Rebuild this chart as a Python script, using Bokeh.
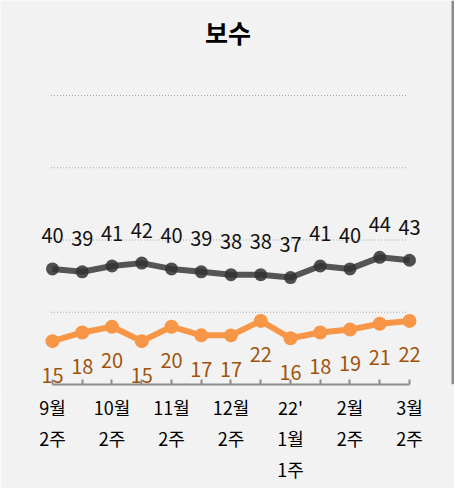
from bokeh.plotting import figure
from bokeh.models import Range1d, FixedTicker, ColumnDataSource, Label, Span
from bokeh.embed import file_html
from bokeh.resources import INLINE

title_text = "보수"
periods = list(range(13))
tick_labels = {0: "9월\n2주", 2: "10월\n2주", 4: "11월\n2주", 6: "12월\n2주",
               8: "22'\n1월\n1주", 10: "2월\n2주", 12: "3월\n2주"}
series_a = [40, 39, 41, 42, 40, 39, 38, 38, 37, 41, 40, 44, 43]
series_b = [15, 18, 20, 15, 20, 17, 17, 22, 16, 18, 19, 21, 22]
grid_values = [25, 50, 75, 100]

FONT = "Noto Sans CJK KR"
BG = "#f2f2f2"

p = figure(width=454, height=488, output_backend="svg", toolbar_location=None,
           x_range=Range1d(-1.748, 13.513), y_range=Range1d(0, 132.87),
           min_border_left=0, min_border_right=0, min_border_top=0, min_border_bottom=104,
           background_fill_color=BG, border_fill_color=BG, outline_line_color=None)

p.yaxis.visible = False
p.xgrid.visible = False
p.ygrid.visible = False

p.add_layout(Label(x=227.5, y=353, x_units="screen", y_units="screen", text=title_text,
                   text_align="center", text_baseline="middle", text_font=FONT,
                   text_font_size="25px", text_font_style="bold", text_color="#000000"))

# right edge line of the panel
p.add_layout(Span(location=13.48, dimension="height", line_color="#8a8a8a", line_width=4))

# dotted grid lines
p.segment(x0=[-0.05] * len(grid_values), x1=[11.9] * len(grid_values),
          y0=grid_values, y1=grid_values, line_color="#a6a6a6", line_width=1.2,
          line_dash="1 2")

xa = p.xaxis[0]
xa.ticker = FixedTicker(ticks=periods)
xa.major_label_overrides = {i: tick_labels.get(i, "") for i in periods}
xa.bounds = (0, 12)
xa.axis_line_color = "#8c8c8c"
xa.axis_line_width = 2
xa.major_tick_line_color = "#8c8c8c"
xa.major_tick_line_width = 2
xa.major_tick_in = 5
xa.major_tick_out = 0
xa.minor_tick_line_color = None
xa.major_label_text_font = FONT
xa.major_label_text_font_size = "18px"
xa.major_label_text_color = "#000000"
xa.major_label_text_line_height = 1.2
xa.major_label_standoff = 9

src = ColumnDataSource(dict(x=periods, a=series_a, b=series_b,
                            la=[str(v) for v in series_a], lb=[str(v) for v in series_b]))

p.line("x", "a", source=src, line_color="#444444", line_width=6, line_alpha=0.9)
p.scatter("x", "a", source=src, size=13, fill_color="#333333", fill_alpha=0.85,
          line_color=None)
p.line("x", "b", source=src, line_color="#f79646", line_width=6)
p.scatter("x", "b", source=src, size=14, fill_color="#f79646", line_color=None)

p.text("x", "a", text="la", source=src, y_offset=-33, text_align="center",
       text_baseline="middle", text_font_size="20px", text_color="#111111",
       text_font=dict(value=FONT))
p.text("x", "b", text="lb", source=src, y_offset=34, text_align="center",
       text_baseline="middle", text_font_size="20px", text_color="#a0530c",
       text_font=dict(value=FONT))

open("out.html", "w").write(file_html(p, INLINE))
